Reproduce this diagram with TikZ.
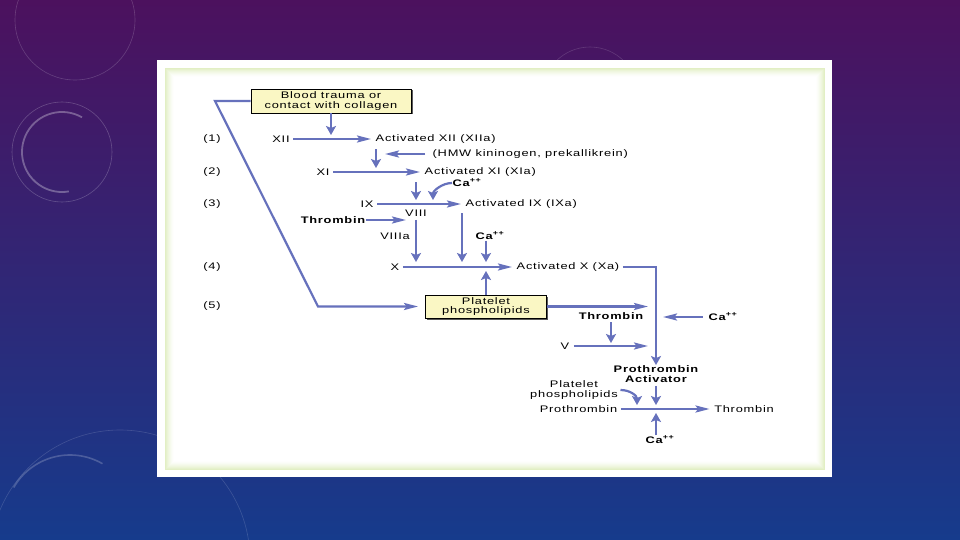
\documentclass[tikz,border=0pt]{standalone}
\usepackage{fontspec}
\setmainfont{Liberation Sans}[FakeStretch=1.35, LetterSpace=8]
\usetikzlibrary{arrows.meta,positioning,shadows}
\definecolor{cascBlue}{HTML}{6671BC}
\definecolor{boxYellow}{HTML}{FAF7C4}
\definecolor{panelGreen}{HTML}{E2EFC4}
\definecolor{slideTop}{HTML}{4C115E}
\definecolor{slideBot}{HTML}{163B8C}

\begin{document}
\begin{tikzpicture}[x=1pt, y=-1pt, font=\fontsize{9.5}{9.5}\selectfont,
  arr/.style={cascBlue, line width=2.2pt, -{Stealth[length=14pt,width=7pt,inset=2.5pt]}},
  varr/.style={arr, -{Stealth[length=9pt,width=10pt,inset=2pt]}},
  rx/.style={arr, shorten <=3pt, shorten >=4pt},
  bx/.style={draw=black, line width=0.9pt, fill=boxYellow, align=center, inner sep=1pt,
    drop shadow={shadow xshift=1.5pt, shadow yshift=-1.5pt, fill=black!65, opacity=1}},
  lbl/.style={inner sep=0.5pt},
  bold/.style={inner sep=0.5pt, font=\fontsize{9.5}{9.5}\selectfont\bfseries}]
\useasboundingbox (0,0) rectangle (960,540);
% slide background
\begin{scope}
\clip (0,0) rectangle (960,540);
\shade[top color=slideTop, bottom color=slideBot] (0,0) rectangle (960,540);
\draw[white, opacity=.22, line width=0.6pt] (62,152) circle (50);
\draw[white, opacity=.3, line width=1.8pt] (62,152) ++(-60:40) arc[start angle=-60, end angle=-280, radius=40];
\draw[white, opacity=.18, line width=0.6pt] (75,20) circle (60);
\draw[white, opacity=.2, line width=1.6pt] (70,520) ++(-150:65) arc[start angle=-150, end angle=-60, radius=65];
\draw[white, opacity=.15, line width=0.6pt] (590,95) circle (48);
\draw[white, opacity=.15, line width=0.6pt] (120,560) circle (130);
\end{scope}
% white panel with green glow
\fill[white] (157,60) rectangle (832,477);
\fill[panelGreen] (165,68) rectangle (825,470);
\foreach \i/\p in {1/85,2/70,3/55,4/42,5/30,6/19,7/10,8/4,9/0}
  \fill[panelGreen!\p!white] (165+\i,68+\i) rectangle (825-\i,470-\i);
% row numbers
\node[lbl] (r1) at (212,139) {(1)};
\node[lbl] (r2) at (212,172) {(2)};
\node[lbl] (r3) at (212,204) {(3)};
\node[lbl] (r4) at (212,267) {(4)};
\node[lbl] (r5) at (212,306) {(5)};
% (1) trauma starts XII
\node[bx, minimum width=160pt, minimum height=24pt] (trauma) at (331,101) {Blood trauma or\\contact with collagen};
\node[lbl] (xii) at (281,139) {XII};
\node[lbl, anchor=west] (xiia) at (375,139) {Activated XII (XIIa)};
\coordinate (j1) at (331,135);
\draw[varr] (trauma) -- (j1);
\draw[rx] (xii) -- (xiia);
% (2) XIIa activates XI
\node[lbl, anchor=west] (hmw) at (432,154) {(HMW kininogen, prekallikrein)};
\coordinate (j2a) at (376,168);
\coordinate (j2b) at (385,154);
\draw[varr] ([shift={(1,5)}]xiia.south west) -- (j2a);
\draw[arr] ([xshift=-7pt]hmw.west) -- (j2b);
\node[lbl] (xi) at (323,172) {XI};
\node[lbl, anchor=west] (xia) at (424,172) {Activated XI (XIa)};
\draw[rx] (xi) -- (xia);
% (3) XIa activates IX
\coordinate (j3a) at (416,200);
\draw[varr] ([shift={(-8,5)}]xia.south west) -- (j3a);
\node[bold, anchor=west] (ca1) at (452,183) {Ca\textsuperscript{++}};
\coordinate (j3b) at (433,200);
\draw[varr] (ca1.west) .. controls +(-10,0) and +(0,-9) .. (j3b);
\node[lbl] (ix) at (367,204) {IX};
\node[lbl, anchor=west] (ixa) at (465,204) {Activated IX (IXa)};
\draw[rx] (ix) -- (ixa);
\node[lbl] (viii) at (416,213) {VIII};
\node[bold] (thr1) at (333,220) {Thrombin};
\coordinate (j3c) at (406,220);
\draw[arr] (thr1) -- (j3c);
\node[lbl] (viiia) at (395,236) {VIIIa};
% (4) IXa + VIIIa activate X
\coordinate (j4a) at (416,262);
\draw[varr, shorten <=3pt] (viii) -- (j4a);
\coordinate (j4b) at (462,262);
\draw[varr] ([shift={(-3,4)}]ixa.south west) -- (j4b);
\node[bold] (ca2) at (490,236) {Ca\textsuperscript{++}};
\coordinate (j4c) at (486,262);
\draw[varr] ([xshift=-4pt]ca2.south) -- (j4c);
\node[lbl] (x) at (395,267) {X};
\node[lbl, anchor=west] (xa) at (516,267) {Activated X (Xa)};
\draw[rx] (x) -- (xa);
\node[bx, minimum width=121pt, minimum height=23pt] (plat) at (486,306.5) {Platelet\\phospholipids};
\coordinate (j4d) at (486,271);
\draw[varr] (plat) -- (j4d);
% prothrombin activator
\node[bold, align=center] (pta) at (656,374) {Prothrombin\\Activator};
\draw[varr, shorten <=3pt] (xa) -| (pta);
% (5) trauma feeds platelet phospholipids
\coordinate (bend1) at (215,101);
\coordinate (bend2) at (318,306.5);
\draw[arr, shorten >=7pt] (trauma.west) -- (bend1) -- (bend2) -- (plat);
\coordinate (j5a) at (648,306.5);
\draw[arr] (plat) -- (j5a);
\node[bold] (thr2) at (611,316) {Thrombin};
\coordinate (j5b) at (611,343);
\draw[varr, shorten <=2pt] (thr2) -- (j5b);
\node[lbl] (v) at (565,346) {V};
\coordinate (j5c) at (648,346);
\draw[arr, shorten <=4pt] (v) -- (j5c);
\node[bold] (ca3) at (723,317) {Ca\textsuperscript{++}};
\coordinate (j5d) at (663,317);
\draw[arr] ([xshift=-5pt]ca3.west) -- (j5d);
% prothrombin to thrombin
\node[lbl, align=center] (pp2) at (574,390) {Platelet\\phospholipids};
\node[lbl] (proth) at (578.5,409) {Prothrombin};
\node[lbl] (thr3) at (744,409) {Thrombin};
\draw[rx] (proth) -- (thr3);
\coordinate (j6a) at (656,405);
\draw[varr, shorten <=3pt] (pta) -- (j6a);
\coordinate (j6b) at (637,405);
\draw[varr] ([xshift=2pt]pp2.east) .. controls +(10,0) and +(0,-9) .. (j6b);
\node[bold] (ca4) at (660,440) {Ca\textsuperscript{++}};
\coordinate (j6c) at (656,413);
\draw[varr] ([xshift=-4pt]ca4.north) -- (j6c);
\end{tikzpicture}
\end{document}
